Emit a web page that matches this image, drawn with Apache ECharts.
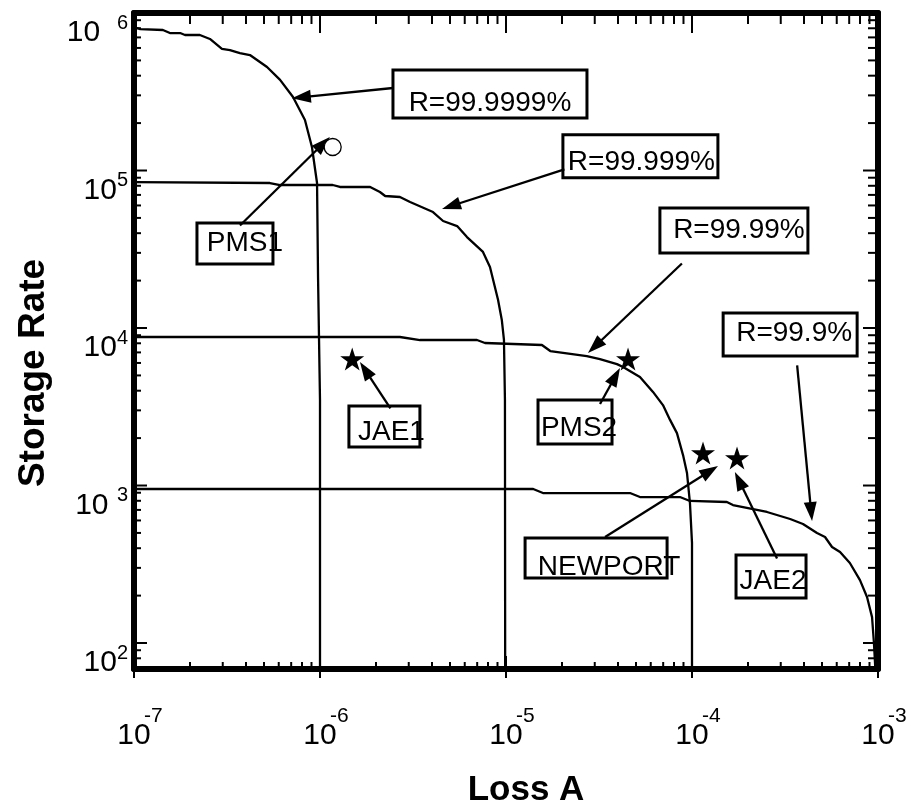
<!DOCTYPE html>
<html><head><meta charset="utf-8">
<script src="https://cdn.jsdelivr.net/npm/echarts@6/dist/echarts.min.js"></script>
<style>html,body{margin:0;padding:0;background:#fff}#c{width:917px;height:812px}</style>
</head><body><div id="c"></div>
<script>
// ---------- data ----------
const curveR9999 = [[1.0e-7,8.15e5],[1.08e-7,7.91e5],[1.43e-7,7.8e5],[1.56e-7,7.46e5],[1.77e-7,7.46e5],[1.88e-7,7.25e5],[2.26e-7,7.25e5],[2.56e-7,6.84e5],[2.97e-7,5.91e5],[3.28e-7,5.82e5],[3.71e-7,5.57e5],[4.2e-7,5.41e5],[5.19e-7,4.54e5],[6.1e-7,3.76e5],[7.16e-7,2.93e5],[8.3e-7,2.09e5],[9.05e-7,1.41e5],[9.64e-7,8.33e4],[9.76e-7,2.11e4],[1.0e-6,3.49e3],[1.0e-6,60]];
const curveR999 = [[1.0e-7,8.45e4],[5.38e-7,8.33e4],[6.1e-7,8.09e4],[1.17e-6,8.09e4],[1.28e-6,7.86e4],[1.86e-6,7.86e4],[2.1e-6,7.3e4],[2.24e-6,6.89e4],[2.69e-6,6.79e4],[3.05e-6,6.31e4],[4.05e-6,5.45e4],[4.59e-6,4.78e4],[5.46e-6,4.44e4],[6.17e-6,3.78e4],[7.52e-6,3.04e4],[8.2e-6,2.44e4],[9.06e-6,1.51e4],[9.5e-6,1.12e4],[9.75e-6,8.4e3],[9.87e-6,3.49e3],[9.9e-6,60]];
const curveR99 = [[1.0e-7,8.77e3],[2.69e-6,8.77e3],[3.45e-6,8.39e3],[6.98e-6,8.39e3],[7.71e-6,8.03e3],[1.56e-5,7.8e3],[1.73e-5,7.14e3],[2.72e-5,6.64e3],[3.2e-5,6.35e3],[3.95e-5,5.9e3],[4.26e-5,5.65e3],[5.25e-5,4.89e3],[6.17e-5,3.93e3],[6.98e-5,3.24e3],[7.62e-5,2.61e3],[8.3e-5,2.15e3],[8.95e-5,1.56e3],[9.4e-5,1.2e3],[9.75e-5,774],[1.0e-4,432],[1.0e-4,60]];
const curveR9 = [[1.0e-7,950],[1.4e-5,950],[1.58e-5,896],[4.64e-5,896],[5.25e-5,845],[8.61e-5,845],[9.75e-5,798],[1.54e-4,786],[1.66e-4,752],[2.53e-4,679],[3.37e-4,613],[3.95e-4,570],[4.7e-4,499],[5.19e-4,471],[5.66e-4,407],[6.25e-4,378],[7.06e-4,322],[8.0e-4,251],[8.73e-4,196],[9.29e-4,146],[9.51e-4,100],[9.64e-4,74.6],[9.7e-4,60]];

const circlePoints = [[1.17e-6,1.41e5]];                 // PMS1
const starPoints = [[1.49e-6,6350],[4.53e-5,6350],[1.146e-4,1607],[1.746e-4,1496]]; // JAE1, PMS2, NEWPORT, JAE2

const annotLabels = ['R=99.9999%','R=99.999%','R=99.99%','R=99.9%','PMS1','JAE1','PMS2','NEWPORT','JAE2'];
const annotBoxLoss = [8.2e-6,5.28e-5,1.68e-4,3.37e-4,3.49e-7,2.22e-6,2.35e-5,3.05e-5,2.66e-4];
const annotBoxRate = [3.06e5,1.23e5,4.16e4,9.1e3,3.44e4,2.37e3,2.53e3,347,264];
const annotTipLoss = [7.06e-7,4.53e-6,2.76e-5,4.42e-4,1.13e-6,1.64e-6,4.1e-5,1.38e-4,1.7e-4];
const annotTipRate = [2.88e5,5.7e4,6.94e3,595,1.63e5,6.09e3,5.57e3,1.33e3,1.22e3];

const xMajorTicks = [1e-7,1e-6,1e-5,1e-4,1e-3];
const xMinorTicks = [2e-7,3e-7,4e-7,5e-7,6e-7,7e-7,8e-7,9e-7,2e-6,3e-6,4e-6,5e-6,6e-6,7e-6,8e-6,9e-6,2e-5,3e-5,4e-5,5e-5,6e-5,7e-5,8e-5,9e-5,2e-4,3e-4,4e-4,5e-4,6e-4,7e-4,8e-4,9e-4];
const yMajorTicks = [1e2,1e3,1e4,1e5,1e6];
const yMinorTicks = [70,80,90,200,300,400,500,600,700,800,900,2e3,3e3,4e3,5e3,6e3,7e3,8e3,9e3,2e4,3e4,4e4,5e4,6e4,7e4,8e4,9e4,2e5,3e5,4e5,5e5,6e5,7e5,8e5,9e5];
const xTickExps = ['-7','-6','-5','-4','-3'];
const yTickLabels = ['10|2','10 |3','10|4','10|5','10  |6'];

// ---------- layout / style ----------
const X_MIN = 1e-7, X_MAX = 1e-3, Y_MIN = 68.4, Y_MAX = 1e6;
const FONT = '"Liberation Sans", Arial, Helvetica, sans-serif';
// [boxW, boxH, tailDx, tailDy, textDx, textDy]
const annotLayout = [[194,48,-97,-6,0,9],[155,43,-76,13,1,6],[148,45,-52,33,5,0],[134,43,7,31,4,-1],[76,41,5,-18,10,0],[71,41,6,-18,7,6],[74,44,25,-18,4,6],[142,40,9,-21,13,9],[70,43,6,-18,2,5]];

function decadeIndex(v, base){
  const e = Math.log10(v), r = Math.round(e);
  if (Math.abs(e - r) > 1e-6) return -1;
  return r - base;
}
const axisLineStyle = {show:true, lineStyle:{color:'#000', width:6, cap:'round'}};
const noTick = {show:false};

const chart = echarts.init(document.getElementById('c'), null, {renderer:'canvas'});
const tickXData = xMajorTicks.map(v=>[v,Y_MIN,1]).concat(xMinorTicks.map(v=>[v,Y_MIN,0]));
const tickYData = yMajorTicks.map(v=>[X_MIN,v,1]).concat(yMinorTicks.map(v=>[X_MIN,v,0]));
const annotData = annotLabels.map((s,i)=>[annotBoxLoss[i],annotBoxRate[i],annotTipLoss[i],annotTipRate[i]]);

const curveSeries = [curveR9999,curveR999,curveR99,curveR9].map(d=>({
  type:'line', data:d, showSymbol:false, symbol:'none', clip:true, z:2,
  lineStyle:{color:'#000', width:2.3}, silent:true
}));

const starPath = 'path://M50 0L61.2 34.5H97.6L68.2 55.9L79.4 90.5L50 69.1L20.6 90.5L31.8 55.9L2.4 34.5H38.8Z';

chart.setOption({
  animation:false,
  backgroundColor:'#fff',
  grid:{left:134, right:39, top:13, bottom:143, containLabel:false, outerBoundsMode:'none'},
  xAxis:[
    {type:'log', min:X_MIN, max:X_MAX, position:'bottom', axisLine:axisLineStyle, axisTick:noTick, minorTick:noTick, splitLine:{show:false},
     axisLabel:{margin:52, color:'#000', fontSize:30, fontFamily:FONT,
       formatter:v=>decadeIndex(v,-7)>=0 ? '10' : ''}},
    {type:'log', min:X_MIN, max:X_MAX, position:'top', axisLine:axisLineStyle, axisTick:noTick, minorTick:noTick, splitLine:{show:false}, axisLabel:{show:false}},
    {type:'log', min:X_MIN, max:X_MAX, position:'bottom', axisLine:{show:false}, axisTick:noTick, minorTick:noTick, splitLine:{show:false},
     axisLabel:{margin:37, color:'#000', fontSize:21, fontFamily:FONT, align:'left', padding:[0,0,0,10],
       formatter:v=>{const i=decadeIndex(v,-7); return i>=0 && i<xTickExps.length ? xTickExps[i] : '';}}}
  ],
  yAxis:[
    {type:'log', min:Y_MIN, max:Y_MAX, position:'left', axisLine:axisLineStyle, axisTick:noTick, minorTick:noTick, splitLine:{show:false},
     axisLabel:{margin:6, align:'right', verticalAlign:'top', color:'#000',
       formatter:v=>{const i=decadeIndex(v,2); if(i<0||i>=yTickLabels.length) return ''; const p=yTickLabels[i].split('|'); return '{b|'+p[0]+'}{s|'+p[1]+'}';},
       rich:{b:{fontSize:30, lineHeight:40, fontFamily:FONT, color:'#000'},
             s:{fontSize:20, lineHeight:20, verticalAlign:'top', fontFamily:FONT, color:'#000'}}}},
    {type:'log', min:Y_MIN, max:Y_MAX, position:'right', axisLine:axisLineStyle, axisTick:noTick, minorTick:noTick, splitLine:{show:false}, axisLabel:{show:false}}
  ],
  graphic:[
    {type:'text', x:34, y:373, rotation:Math.PI/2, style:{text:'Storage Rate', align:'center', verticalAlign:'middle', font:'bold 37px '+FONT, fill:'#000'}},
    {type:'text', x:526, y:790, style:{text:'Loss A', align:'center', verticalAlign:'middle', font:'bold 35px '+FONT, fill:'#000'}}
  ],
  series: curveSeries.concat([
    {type:'custom', name:'xticks', data:tickXData, clip:false, z:6, silent:true,
     renderItem:(params, api)=>{
       const p = api.coord([api.value(0), api.value(1)]);
       const cs = params.coordSys, top = cs.y, bot = cs.y + cs.height, x = p[0];
       const major = api.value(2) === 1;
       const st = {stroke:'#000', lineWidth:2};
       return {type:'group', children:[
         {type:'line', shape:{x1:x, y1:bot + (major?9:0), x2:x, y2:bot - (major?13:7)}, style:st},
         {type:'line', shape:{x1:x, y1:top, x2:x, y2:top + (major?20:11)}, style:st}
       ]};
     }},
    {type:'custom', name:'yticks', data:tickYData, clip:false, z:6, silent:true,
     renderItem:(params, api)=>{
       const p = api.coord([api.value(0), api.value(1)]);
       const cs = params.coordSys, left = cs.x, right = cs.x + cs.width, y = p[1];
       const major = api.value(2) === 1;
       const st = {stroke:'#000', lineWidth:2};
       return {type:'group', children:[
         {type:'line', shape:{x1:left, y1:y, x2:left + (major?13:7), y2:y}, style:st},
         {type:'line', shape:{x1:right, y1:y, x2:right - (major?15:10), y2:y}, style:st}
       ]};
     }},
    {type:'custom', name:'annotations', data:annotData, clip:false, z:4, silent:true,
     renderItem:(params, api)=>{
       const i = params.dataIndex, L = annotLayout[i];
       const c = api.coord([api.value(0), api.value(1)]);
       const p = api.coord([api.value(2), api.value(3)]);
       const t = [c[0]+L[2], c[1]+L[3]];
       const dx = p[0]-t[0], dy = p[1]-t[1], len = Math.hypot(dx,dy);
       const ux = dx/len, uy = dy/len, hl = 19, hw = 6.5;
       const bx = p[0]-ux*hl, by = p[1]-uy*hl;
       return {type:'group', children:[
         {type:'rect', shape:{x:c[0]-L[0]/2, y:c[1]-L[1]/2, width:L[0], height:L[1]}, style:{fill:'#fff', stroke:'#000', lineWidth:3}},
         {type:'text', style:{text:annotLabels[i], x:c[0]+L[4], y:c[1]+L[5], align:'center', verticalAlign:'middle', font:'28px '+FONT, fill:'#000'}},
         {type:'line', shape:{x1:t[0], y1:t[1], x2:bx+ux*3, y2:by+uy*3}, style:{stroke:'#000', lineWidth:2.3}},
         {type:'polygon', shape:{points:[[p[0],p[1]],[bx-uy*hw,by+ux*hw],[bx+uy*hw,by-ux*hw]]}, style:{fill:'#000'}}
       ]};
     }},
    {type:'scatter', data:starPoints, symbol:starPath, symbolSize:[24,23], z:5, itemStyle:{color:'#000', opacity:1}, silent:true},
    {type:'scatter', data:circlePoints, symbol:'circle', symbolSize:17, z:5, itemStyle:{color:'#fff', borderColor:'#000', borderWidth:1.3, opacity:1}, silent:true}
  ])
});
</script>
</body></html>
